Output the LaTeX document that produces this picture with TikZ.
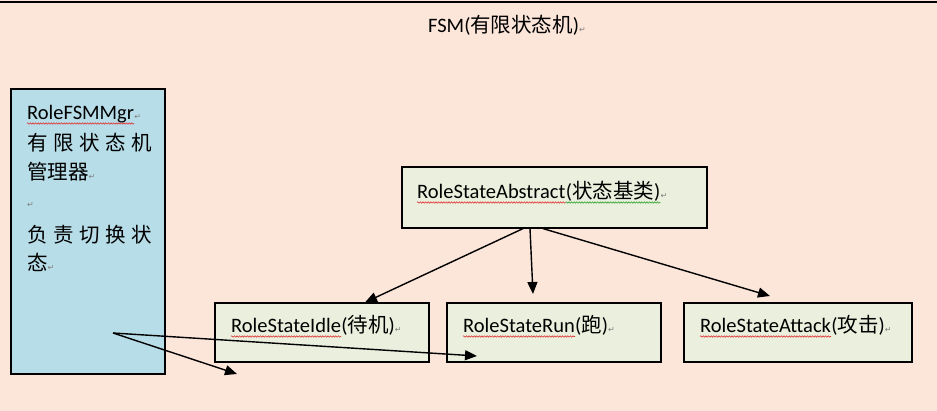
\documentclass[tikz,border=0pt]{standalone}
\usepackage{fontspec}
\setmainfont{Carlito}
\newfontfamily\cjk{Noto Sans CJK SC}
\newfontfamily\symfont{DejaVu Sans}
\usetikzlibrary{arrows.meta,decorations.pathmorphing}
\definecolor{bgpeach}{HTML}{FCE5D9}
\definecolor{boxgreen}{HTML}{EAF0DD}
\definecolor{boxblue}{HTML}{B7DDE8}
\definecolor{squigred}{HTML}{E03030}
\definecolor{squiggreen}{HTML}{30A030}
\newcommand{\retmk}{{\symfont\color{gray}\fontsize{8}{8}\selectfont ↵}}
\begin{document}
\begin{tikzpicture}[x=1pt,y=-1pt,
  box/.style={draw=black, line width=1.2pt, fill=boxgreen, inner sep=0pt},
  arr/.style={line width=1.4pt, -{Triangle[length=12pt,width=10pt]}},
  lbl/.style={anchor=base west, inner sep=0pt, text=black, font=\fontsize{20.5}{24}\selectfont},
  squig/.style={draw=squigred, line width=0.6pt, decorate, decoration={snake, amplitude=0.7pt, segment length=2.6pt}}]
\fill[bgpeach] (0,0) rectangle (937,411);
\useasboundingbox (0,0) rectangle (937,411);
\draw[line width=1.6pt] (0,2) -- (937,2);
% boxes
\node[box, fill=boxblue, minimum width=154pt, minimum height=285pt] (mgr) at (88,231.5) {};
\node[box, minimum width=305pt, minimum height=61pt] (abs) at (554.5,197.5) {};
\node[box, minimum width=214pt, minimum height=59pt] (idle) at (322,332.5) {};
\node[box, minimum width=214pt, minimum height=59pt] (run) at (554,332.5) {};
\node[box, minimum width=228pt, minimum height=59pt] (atk) at (798,332.5) {};
% labels
\node[lbl] (title) at (428,33) {FSM({\cjk 有限状态机})\retmk};
\node[lbl] (wabs) at (417,199) {RoleStateAbstract};
\node[lbl] (rabs) at (wabs.base east) {({\cjk 状态基类})};
\node[lbl] (eabs) at (rabs.base east) {\retmk};
\node[lbl] (widle) at (231,333) {RoleStateIdle};
\node[lbl] (ridle) at (widle.base east) {({\cjk 待机})\retmk};
\node[lbl] (wrun) at (463,333) {RoleStateRun};
\node[lbl] (rrun) at (wrun.base east) {({\cjk 跑})\retmk};
\node[lbl] (watk) at (700,333) {RoleStateAttack};
\node[lbl] (ratk) at (watk.base east) {({\cjk 攻击})\retmk};
\node[lbl] (m1) at (27,120) {RoleFSMMgr};
\node[lbl] (m1r) at (m1.base east) {\retmk};
\node[lbl] (m2) at (27,151) {\cjk 有\hspace{5.5pt}限\hspace{5.5pt}状\hspace{5.5pt}态\hspace{5.5pt}机};
\node[lbl] (m3) at (27,180) {{\cjk 管理器}\retmk};
\node[lbl] (m4) at (27,208) {\retmk};
\node[lbl] (m5) at (27,243) {\cjk 负\hspace{5.5pt}责\hspace{5.5pt}切\hspace{5.5pt}换\hspace{5.5pt}状};
\node[lbl] (m6) at (27,271) {{\cjk 态}\retmk};
% spelling underlines
\draw[squig] ([yshift=-3.5pt]m1.base west) -- ([yshift=-3.5pt]m1.base east);
\draw[squig] ([yshift=-3.5pt]wabs.base west) -- ([yshift=-3.5pt]wabs.base east);
\draw[squig, draw=squiggreen] ([yshift=-3.5pt]rabs.base west) -- ([yshift=-3.5pt]rabs.base east);
\draw[squig] ([yshift=-3.5pt]widle.base west) -- ([yshift=-3.5pt]widle.base east);
\draw[squig] ([yshift=-3.5pt]wrun.base west) -- ([yshift=-3.5pt]wrun.base east);
\draw[squig] ([yshift=-3.5pt]watk.base west) -- ([yshift=-3.5pt]watk.base east);
% connector end points
\coordinate (t2) at (533,294);
\coordinate (t3) at (770,296);
\coordinate (m0) at (113,333);
\coordinate (t4) at (477,356);
\coordinate (t5) at (237,374);
% connectors
\draw[arr] ([xshift=-31.5pt]abs.south) -- ([xshift=43pt]idle.north);
\draw[arr] ([xshift=-24.5pt]abs.south) -- (t2);
\draw[arr] ([xshift=-11.5pt]abs.south) -- (t3);
\draw[arr] (m0) -- (t4);
\draw[arr] (m0) -- (t5);
\end{tikzpicture}
\end{document}
